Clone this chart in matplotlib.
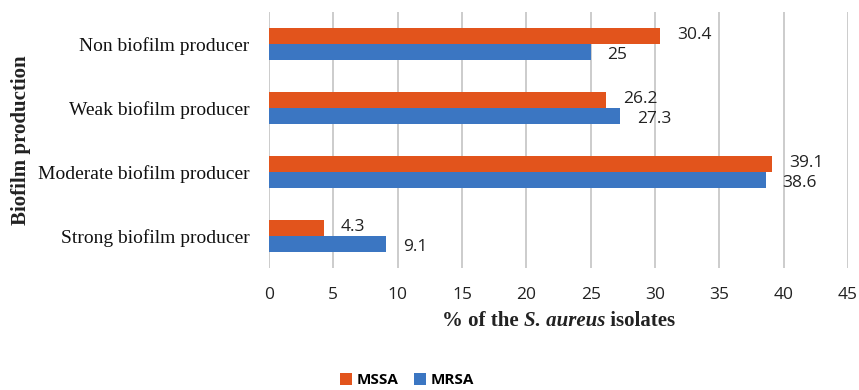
import matplotlib
matplotlib.use("Agg")
import matplotlib.pyplot as plt
import numpy as np

categories = ["Strong biofilm producer", "Moderate biofilm producer",
              "Weak biofilm producer", "Non biofilm producer"]
mssa = [4.3, 39.1, 26.2, 30.4]
mrsa = [9.1, 38.6, 27.3, 25]
mssa_labels = ["4.3", "39.1", "26.2", "30.4"]
mrsa_labels = ["9.1", "38.6", "27.3", "25"]
xticks = [0, 5, 10, 15, 20, 25, 30, 35, 40, 45]

c_mssa = "#E2541C"
c_mrsa = "#3B76C2"

fig = plt.figure(figsize=(8.59, 3.90), dpi=100)
ax = fig.add_axes([0.3132, 0.313, 0.6740, 0.656])

y = np.arange(len(categories))
h = 0.25
ax.barh(y + h / 2, mssa, height=h, color=c_mssa, label="MSSA", zorder=3)
ax.barh(y - h / 2, mrsa, height=h, color=c_mrsa, label="MRSA", zorder=3)

for yi, v, t in zip(y, mssa, mssa_labels):
    ax.annotate(t, (v, yi + h / 2), xytext=(12, 1), textcoords="offset points",
                va="center", ha="left", fontsize=12.5, family="Open Sans",
                color="#222222")
for yi, v, t in zip(y, mrsa, mrsa_labels):
    ax.annotate(t, (v, yi - h / 2), xytext=(12, -2), textcoords="offset points",
                va="center", ha="left", fontsize=12.5, family="Open Sans",
                color="#222222")

ax.set_xlim(0, 45)
ax.set_ylim(-0.5, 3.5)
ax.set_xticks(xticks)
ax.set_xticklabels([str(t) for t in xticks], family="Open Sans", fontsize=12.5,
                   color="#222222")
ax.set_yticks(y)
ax.set_yticklabels(categories, family="Liberation Serif", fontsize=14,
                   color="#111111")
ax.tick_params(axis="y", length=0, pad=14)
ax.tick_params(axis="x", length=0, pad=14)
for s in ax.spines.values():
    s.set_visible(False)
ax.grid(axis="x", color="#C8C8C8", linewidth=1.3, zorder=0)
ax.set_axisbelow(True)

# x-axis title assembled from upright and italic pieces
title_parts = [("% of the ", "normal"), ("S. aureus", "italic"), (" isolates", "normal")]
renderer = fig.canvas.get_renderer()
texts = []
for s, style in title_parts:
    t = fig.text(0, 0.165, s, family="Liberation Serif", fontweight="bold",
                 fontstyle=style, fontsize=15, color="#222222",
                 va="baseline", ha="left")
    texts.append(t)
widths = [t.get_window_extent(renderer).width / fig.bbox.width for t in texts]
# trailing/leading spaces are measured inside the text extents
x0 = 0.3132 + 0.6740 / 2 - sum(widths) / 2
for t, w in zip(texts, widths):
    t.set_x(x0)
    x0 += w

fig.text(0.025, 0.64, "Biofilm production", rotation=90, va="center",
         ha="center", family="Liberation Serif", fontweight="bold",
         fontsize=15, color="#222222")

handles, labels = ax.get_legend_handles_labels()
fig.legend(handles, labels, loc="center", bbox_to_anchor=(0.474, 0.025),
           ncol=2, frameon=False, handlelength=0.8, handleheight=0.8,
           handletextpad=0.3, columnspacing=1.0,
           prop={"family": "Open Sans", "weight": "bold", "size": 11})

fig.savefig("out.png", dpi=100, facecolor="white")
